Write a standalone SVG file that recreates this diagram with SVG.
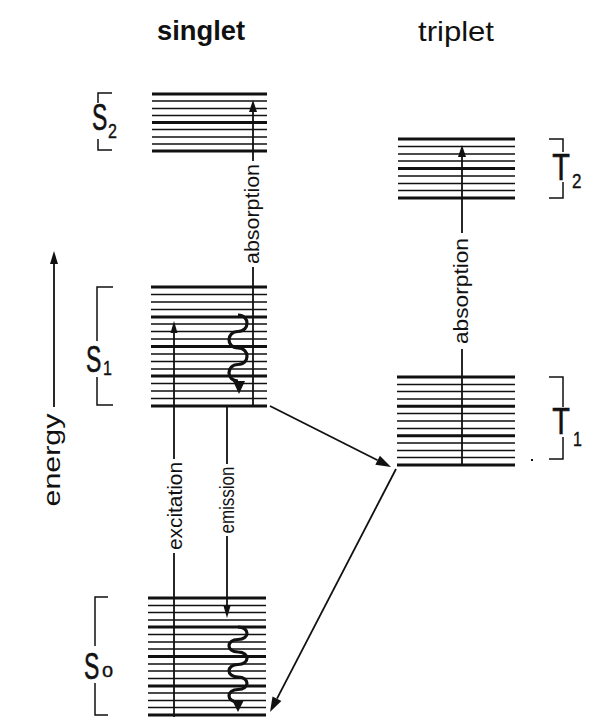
<svg xmlns="http://www.w3.org/2000/svg" width="593" height="728" viewBox="0 0 593 728">
<style>
text{font-family:"Liberation Sans",Arial,sans-serif;fill:#111}
.thin{stroke:#111;stroke-width:1.6;fill:none}
.heavy{stroke:#111;stroke-width:3;fill:none}
.br{stroke:#111;stroke-width:1.5;fill:none}
.ln{stroke:#111;stroke-width:1.8;fill:none}
.wave{stroke:#111;stroke-width:3.2;fill:none}
.ah{fill:#111}
.lab{font-size:19.5px}
.big{font-size:37px;stroke:#111;stroke-width:0.6}
.sub{font-size:20px;stroke:#111;stroke-width:0.4}
</style>
<rect width="593" height="728" fill="#fff"/>

<g id="title-singlet"><text x="201" y="40" font-size="28" font-weight="bold" text-anchor="middle" textLength="88" lengthAdjust="spacingAndGlyphs">singlet</text></g>
<g id="title-triplet"><text x="456" y="41" font-size="28" text-anchor="middle" textLength="76" lengthAdjust="spacingAndGlyphs">triplet</text></g>

<g id="S2">
<path class="heavy" d="M152 94H267M152 122.5H267M152 151H267"/>
<path class="thin" d="M152 101H267M152 108.5H267M152 115.5H267M152 129.5H267M152 137H267M152 144H267"/>
<path class="br" d="M112 93H98V103M98 139V150H112"/>
<text class="big" transform="translate(92,130) scale(0.62,1)">S</text>
<text class="sub" transform="translate(108,138) scale(0.8,1)">2</text>
</g>

<g id="S1">
<path class="heavy" d="M151 287H267M151 317H267M151 346.5H267M151 376H267M151 406H267"/>
<path class="thin" d="M151 294.5H267M151 302H267M151 309.5H267M151 324H267M151 331.5H267M151 339H267M151 354H267M151 361.5H267M151 369H267M151 383.5H267M151 391H267M151 398.5H267"/>
<path class="br" d="M113 287H97V341M97 377V405H113"/>
<text class="big" transform="translate(86,372) scale(0.62,1)">S</text>
<text class="sub" transform="translate(103,375) scale(0.8,1)">1</text>
</g>

<g id="S0">
<path class="heavy" d="M148 598H266M148 627H266M148 656.5H266M148 686H266M148 715H266"/>
<path class="thin" d="M148 605.5H266M148 612.5H266M148 620H266M148 634.5H266M148 642H266M148 649H266M148 664H266M148 671H266M148 678.5H266M148 693H266M148 700.5H266M148 707.5H266"/>
<path class="br" d="M108 597H95V646M95 683V715H108"/>
<text class="big" transform="translate(84,679) scale(0.62,1)">S</text>
<text class="sub" font-size="19" transform="translate(102,677)">o</text>
</g>

<g id="T2">
<path class="heavy" d="M398 139H515M398 168.5H515M398 198H515"/>
<path class="thin" d="M398 146.5H515M398 154H515M398 161H515M398 176H515M398 183.5H515M398 190.5H515"/>
<path class="br" d="M549 139H563V152M563 182V198H549"/>
<text class="big" font-size="32" text-anchor="middle" transform="translate(561,180) scale(0.78,1)">T</text>
<text class="sub" transform="translate(572,188) scale(0.85,1)">2</text>
</g>

<g id="T1">
<path class="heavy" d="M397 377H515M397 406.3H515M397 435.7H515M397 465H515"/>
<path class="thin" d="M397 384.5H515M397 391.5H515M397 399H515M397 413.5H515M397 421H515M397 428.5H515M397 443H515M397 450.5H515M397 457.5H515"/>
<path class="br" d="M549 377H563V407M563 437V459H549"/>
<rect x="531" y="459" width="2" height="2" fill="#111"/>
<text class="big" font-size="31" text-anchor="middle" transform="translate(561,434) scale(0.78,1)">T</text>
<text class="sub" font-size="19" transform="translate(573,446) scale(0.8,1)">1</text>
</g>

<g id="energy-axis">
<path class="ln" d="M54 407V263"/>
<polygon class="ah" points="54,251 50,264 58,264"/>
<text font-size="23" text-anchor="middle" transform="translate(60,460) rotate(-90)" textLength="93" lengthAdjust="spacingAndGlyphs">energy</text>
</g>

<g id="connectors">
<!-- excitation S0 -> S1 -->
<path class="ln" d="M174 717V553M174 459V332"/>
<polygon class="ah" points="174,321 170.5,333 177.5,333"/>
<text class="lab" text-anchor="middle" transform="translate(182,506) rotate(-90)" textLength="88" lengthAdjust="spacingAndGlyphs">excitation</text>
<!-- emission S1 -> S0 -->
<path class="ln" d="M227 406V464M227 536V607"/>
<polygon class="ah" points="227,618 223.5,606 230.5,606"/>
<text class="lab" text-anchor="middle" transform="translate(233.5,500) rotate(-90)" textLength="67" lengthAdjust="spacingAndGlyphs">emission</text>
<!-- absorption S1 -> S2 -->
<path class="ln" d="M253 406V267M253 161V111"/>
<polygon class="ah" points="253,100 249,112 257,112"/>
<text class="lab" text-anchor="middle" transform="translate(259,214) rotate(-90)" textLength="100" lengthAdjust="spacingAndGlyphs">absorption</text>
<!-- absorption T1 -> T2 -->
<path class="ln" d="M462 466V349M462 233V156"/>
<polygon class="ah" points="462,145 458,157 466,157"/>
<text class="lab" text-anchor="middle" transform="translate(468,291) rotate(-90)" textLength="106" lengthAdjust="spacingAndGlyphs">absorption</text>
<!-- vibrational relaxation S1 -->
<path class="wave" d="M238 315C250 315 250 331.5 238 331.5C226 331.5 226 348 238 348C250 348 250 364.5 238 364.5C226 364.5 226 381 238 381"/>
<polygon class="ah" points="239,394 233,381 245,381"/>
<!-- vibrational relaxation S0 -->
<path class="wave" d="M238 627C250 627 250 639.5 238 639.5C226 639.5 226 652 238 652C250 652 250 664.5 238 664.5C226 664.5 226 677 238 677C250 677 250 689.5 238 689.5C226 689.5 226 702 238 702"/>
<polygon class="ah" points="238,712 232,700 244,700"/>
<!-- intersystem crossing S1 -> T1 -->
<path class="ln" d="M270 406L377.6 460.2"/>
<polygon class="ah" points="391,467 375.3,464.7 379.9,455.8"/>
<!-- T1 -> S0 -->
<path class="ln" d="M396 469L277 698.7"/>
<polygon class="ah" points="270,712 281.4,701 272.5,696.4"/>
</g>
</svg>
